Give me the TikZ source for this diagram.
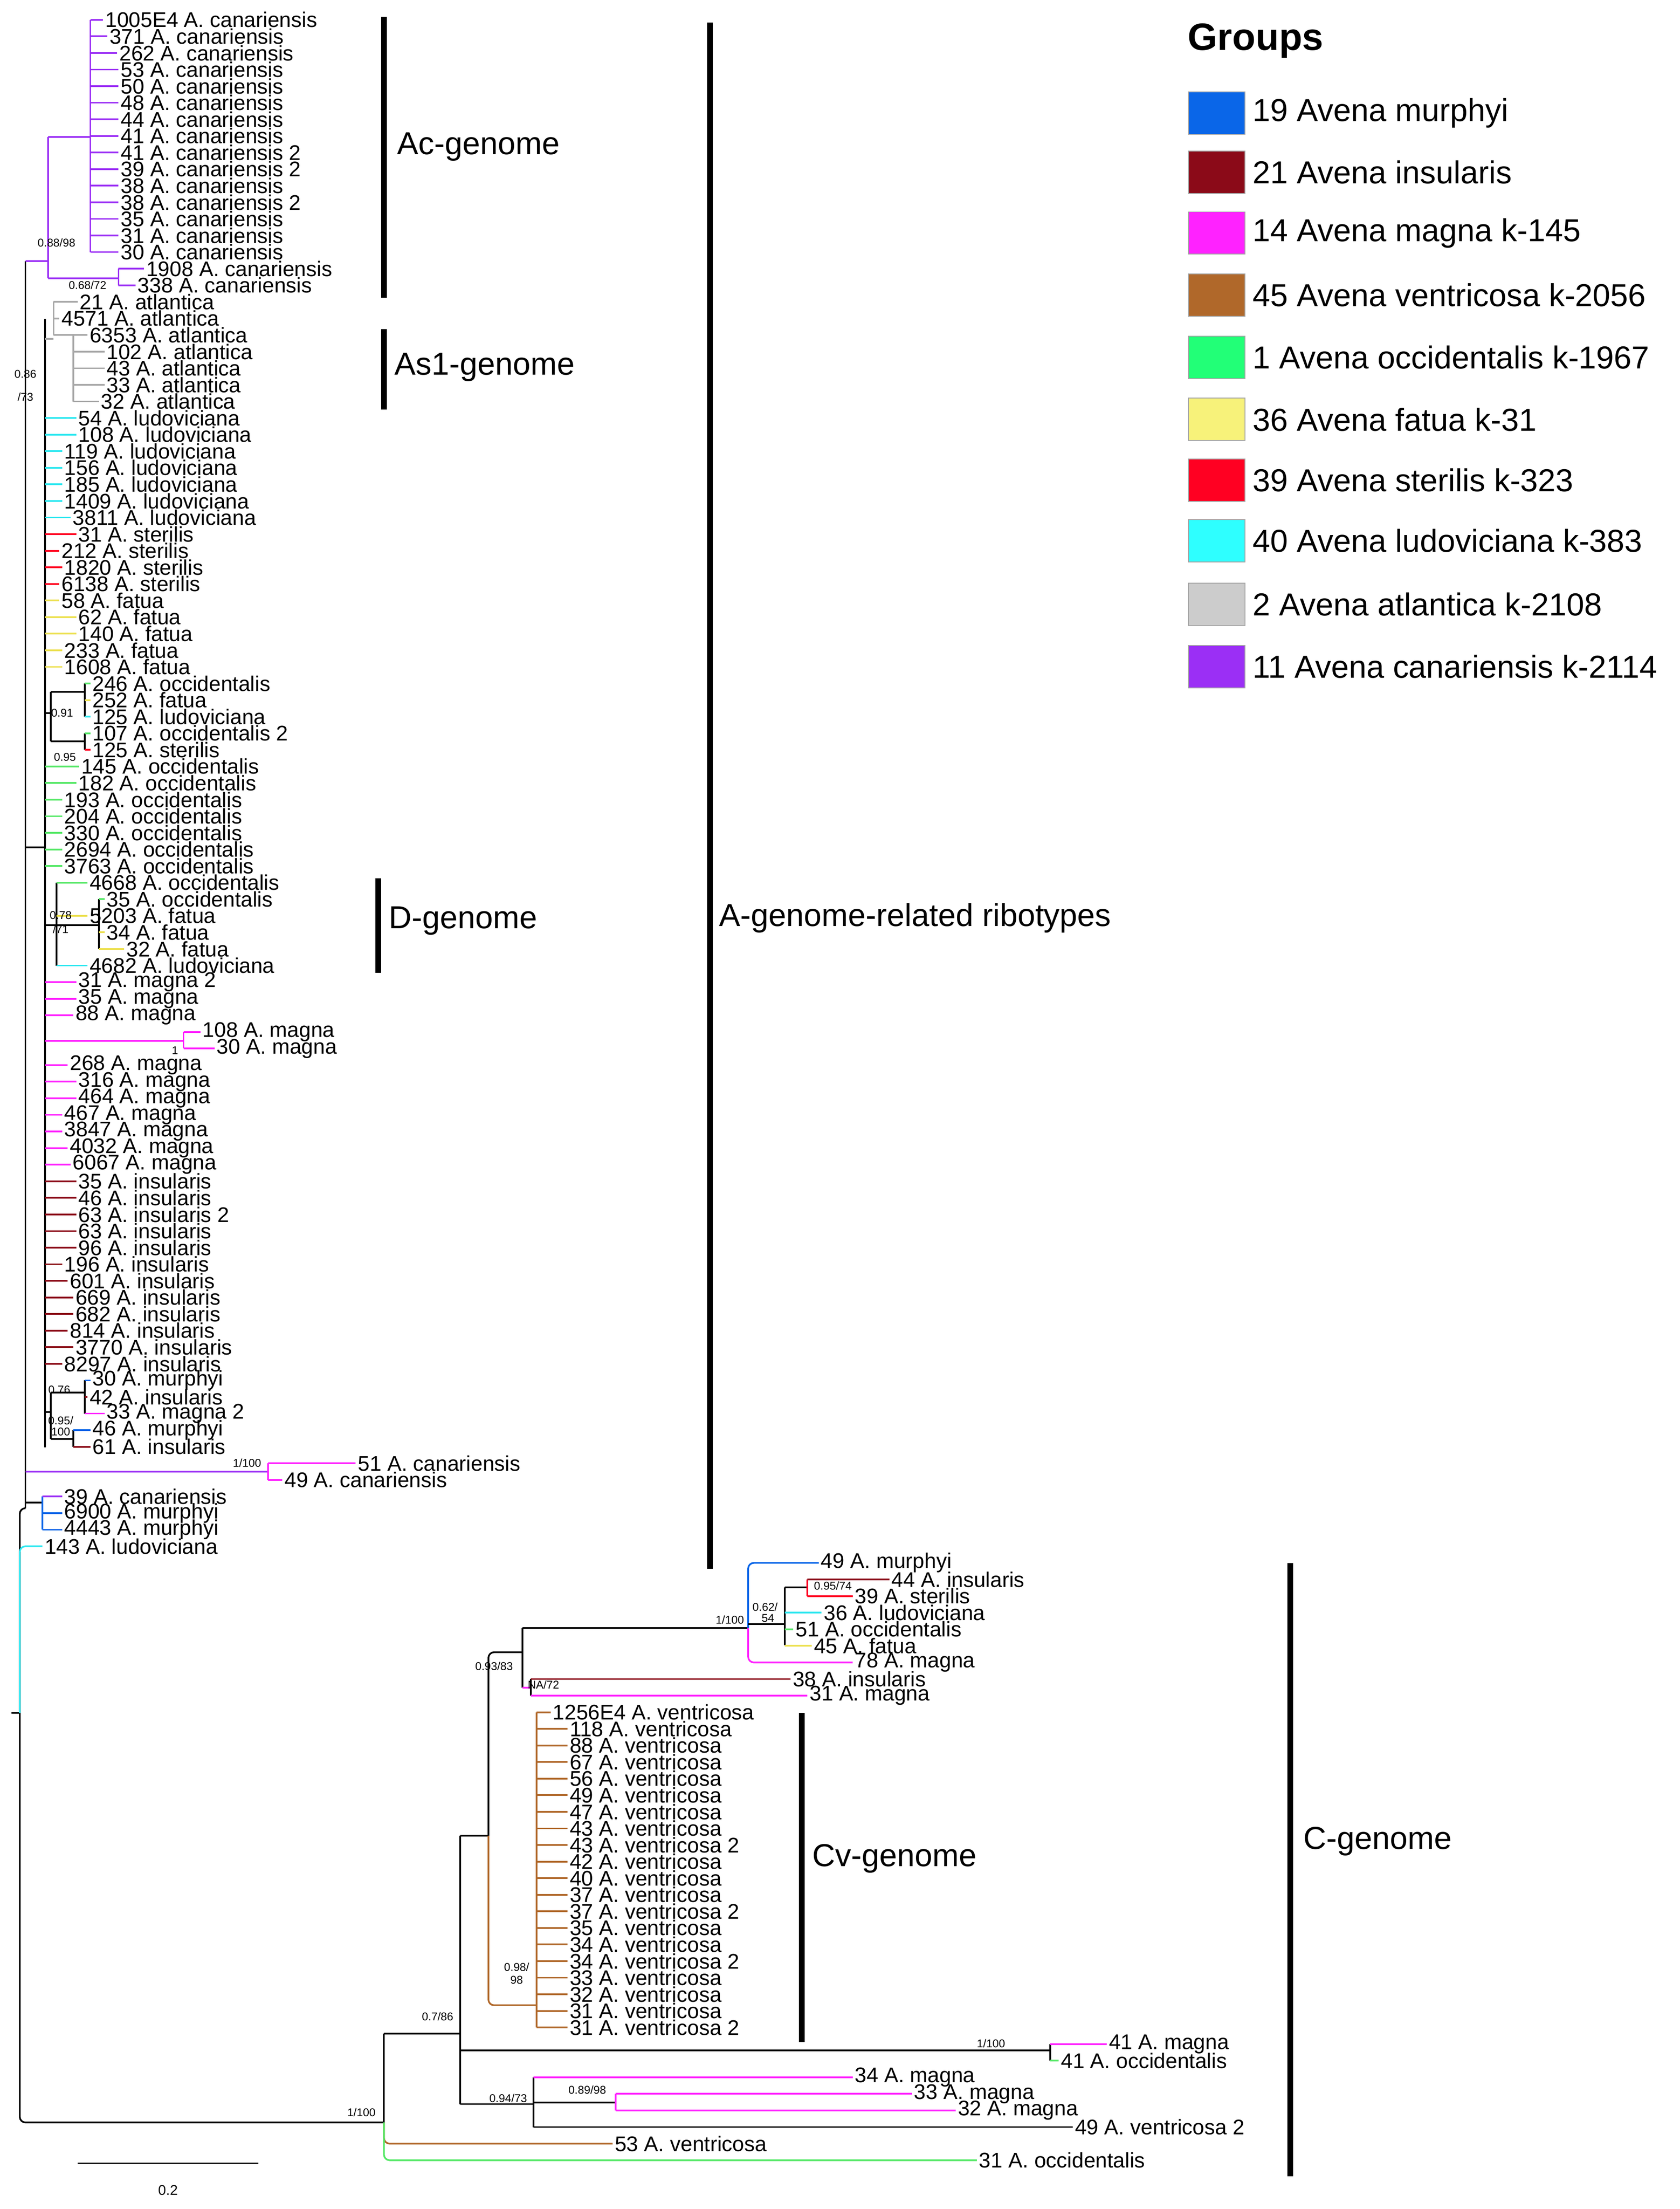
\documentclass[tikz,border=0pt]{standalone}
\usepackage{fontspec}
\setmainfont{Liberation Sans}
\begin{document}
\definecolor{cana}{HTML}{9B2FF5}
\definecolor{atl}{HTML}{A8A8A8}
\definecolor{atlL}{HTML}{CCCCCC}
\definecolor{lud}{HTML}{30E8F0}
\definecolor{ludL}{HTML}{2EFFFF}
\definecolor{ster}{HTML}{FF0022}
\definecolor{fat}{HTML}{ECE050}
\definecolor{fatL}{HTML}{F7F27A}
\definecolor{occ}{HTML}{55E866}
\definecolor{occL}{HTML}{22FF77}
\definecolor{mag}{HTML}{FF22FF}
\definecolor{ins}{HTML}{8B0A18}
\definecolor{mur}{HTML}{0A66E8}
\definecolor{ven}{HTML}{B0682A}
\tikzset{br/.style={line width=1.2pt,rounded corners=4pt},
 lbl/.style={anchor=west,inner sep=1pt,text=black,font=\fontsize{15}{15}\selectfont},
 sup/.style={inner sep=0pt,text=black,font=\fontsize{8}{8}\selectfont},
 bar/.style={line width=4pt},
 glab/.style={anchor=west,text=black,font=\fontsize{22.5}{22.5}\selectfont},
 box/.style={draw=gray!70,line width=0.6pt,minimum width=40pt,minimum height=30pt,inner sep=0pt}}
\newcommand\lf[5]{\draw[br,#4] (#1,{14+(#2-1)*11.75}) -- (#3,{14+(#2-1)*11.75}) node[lbl] (L#2) {#5};}
\newcommand\vl[4]{\draw[br,#4] (#1,{14+(#2-1)*11.75}) -- (#1,{14+(#3-1)*11.75});}
\begin{tikzpicture}[x=1pt,y=-1pt]
\useasboundingbox (0,0) rectangle (1190,1564.3);
\fill[white] (0,0) rectangle (1190,1564.3);
% ---------- root ----------
\draw[br] (8,1213) -- (14,1213);
\draw[br] (18,1068) -| (14,1503) -- (272,1503);
\draw[br,lud] (14,1213) |- (30,{14+92*11.75}) node[lbl] (L93) {143 A. ludoviciana};
% ---------- A node ----------
\draw[br] (18,185) -- (18,1068);
% Ac
\draw[br,cana] (18,185) -- (34,185);
\draw[br,cana] (34,97) -- (34,197);
\draw[br,cana] (34,97) -- (64,97);
\vl{64}{1}{15}{cana}
\lf{64}{1}{73}{cana}{1005E4 A. canariensis}
\lf{64}{2}{76}{cana}{371 A. canariensis}
\lf{64}{3}{83}{cana}{262 A. canariensis}
\lf{64}{4}{84}{cana}{53 A. canariensis}
\lf{64}{5}{84}{cana}{50 A. canariensis}
\lf{64}{6}{84}{cana}{48 A. canariensis}
\lf{64}{7}{84}{cana}{44 A. canariensis}
\lf{64}{8}{84}{cana}{41 A. canariensis}
\lf{64}{9}{84}{cana}{41 A. canariensis 2}
\lf{64}{10}{84}{cana}{39 A. canariensis 2}
\lf{64}{11}{84}{cana}{38 A. canariensis}
\lf{64}{12}{84}{cana}{38 A. canariensis 2}
\lf{64}{13}{84}{cana}{35 A. canariensis}
\lf{64}{14}{84}{cana}{31 A. canariensis}
\lf{64}{15}{84}{cana}{30 A. canariensis}
\draw[br,cana] (34,197) -- (84,197);
\vl{84}{16}{17}{cana}
\lf{84}{16}{102}{cana}{1908 A. canariensis}
\lf{84}{17}{96}{cana}{338 A. canariensis}
\node[sup] (s1) at (40,172) {0.88/98};
\node[sup] (s2) at (62,202) {0.68/72};
% backbone P
\draw[br] (18,600) -- (32,600);
\draw[br] (32,226) -- (32,1025);
\node[sup] (s3) at (18,265) {0.86};
\node[sup] (s4) at (18,281) {/73};
% atlantica
\draw[br,atl] (32,240) -- (38,240);
\vl{38}{18}{20}{atl}
\lf{38}{18}{55}{atl}{21 A. atlantica}
\lf{38}{19}{42}{atl}{4571 A. atlantica}
\draw[br,atl] (38,{14+19*11.75}) -- (52,{14+19*11.75});
\vl{52}{20}{24}{atl}
\lf{52}{20}{62}{atl}{6353 A. atlantica}
\lf{52}{21}{74}{atl}{102 A. atlantica}
\lf{52}{22}{74}{atl}{43 A. atlantica}
\lf{52}{23}{74}{atl}{33 A. atlantica}
\lf{52}{24}{70}{atl}{32 A. atlantica}
% direct leaves
\lf{32}{25}{54}{lud}{54 A. ludoviciana}
\lf{32}{26}{54}{lud}{108 A. ludoviciana}
\lf{32}{27}{44}{lud}{119 A. ludoviciana}
\lf{32}{28}{44}{lud}{156 A. ludoviciana}
\lf{32}{29}{44}{lud}{185 A. ludoviciana}
\lf{32}{30}{44}{lud}{1409 A. ludoviciana}
\lf{32}{31}{50}{lud}{3811 A. ludoviciana}
\lf{32}{32}{54}{ster}{31 A. sterilis}
\lf{32}{33}{42}{ster}{212 A. sterilis}
\lf{32}{34}{44}{ster}{1820 A. sterilis}
\lf{32}{35}{42}{ster}{6138 A. sterilis}
\lf{32}{36}{42}{fat}{58 A. fatua}
\lf{32}{37}{54}{fat}{62 A. fatua}
\lf{32}{38}{54}{fat}{140 A. fatua}
\lf{32}{39}{44}{fat}{233 A. fatua}
\lf{32}{40}{44}{fat}{1608 A. fatua}
% 0.91 clade
\draw[br] (32,505) -- (36,505);
\draw[br] (36,490) -- (36,525);
\draw[br] (36,490) -- (60,490);
\vl{60}{41}{43}{black}
\lf{60}{41}{64}{occ}{246 A. occidentalis}
\lf{60}{42}{64}{fat}{252 A. fatua}
\lf{60}{43}{64}{lud}{125 A. ludoviciana}
\draw[br] (36,525) -- (60,525);
\vl{60}{44}{45}{black}
\lf{60}{44}{64}{occ}{107 A. occidentalis 2}
\lf{60}{45}{64}{ster}{125 A. sterilis}
\node[sup] (s5) at (44,505) {0.91};
\node[sup] (s6) at (46,536) {0.95};
\lf{32}{46}{56}{occ}{145 A. occidentalis}
\lf{32}{47}{54}{occ}{182 A. occidentalis}
\lf{32}{48}{44}{occ}{193 A. occidentalis}
\lf{32}{49}{44}{occ}{204 A. occidentalis}
\lf{32}{50}{44}{occ}{330 A. occidentalis}
\lf{32}{51}{44}{occ}{2694 A. occidentalis}
\lf{32}{52}{44}{occ}{3763 A. occidentalis}
% D clade
\draw[br] (32,655) -- (40,655);
\vl{40}{53}{58}{black}
\lf{40}{53}{62}{occ}{4668 A. occidentalis}
\lf{40}{55}{62}{fat}{5203 A. fatua}
\lf{40}{58}{62}{lud}{4682 A. ludoviciana}
\draw[br] (40,655) -- (70,655);
\vl{70}{54}{57}{black}
\lf{70}{54}{74}{occ}{35 A. occidentalis}
\lf{70}{56}{74}{fat}{34 A. fatua}
\lf{70}{57}{88}{fat}{32 A. fatua}
\node[sup] (s7) at (43,648) {0.78};
\node[sup] (s8) at (43,658) {/71};
% magna
\lf{32}{59}{54}{mag}{31 A. magna 2}
\lf{32}{60}{54}{mag}{35 A. magna}
\lf{32}{61}{52}{mag}{88 A. magna}
\draw[br,mag] (32,737) -- (130,737);
\vl{130}{62}{63}{mag}
\lf{130}{62}{142}{mag}{108 A. magna}
\lf{130}{63}{152}{mag}{30 A. magna}
\node[sup] (s9) at (124,744) {1};
\lf{32}{64}{48}{mag}{268 A. magna}
\lf{32}{65}{54}{mag}{316 A. magna}
\lf{32}{66}{54}{mag}{464 A. magna}
\lf{32}{67}{44}{mag}{467 A. magna}
\lf{32}{68}{44}{mag}{3847 A. magna}
\lf{32}{69}{48}{mag}{4032 A. magna}
\lf{32}{70}{50}{mag}{6067 A. magna}
% insularis
\lf{32}{71}{54}{ins}{35 A. insularis}
\lf{32}{72}{54}{ins}{46 A. insularis}
\lf{32}{73}{54}{ins}{63 A. insularis 2}
\lf{32}{74}{54}{ins}{63 A. insularis}
\lf{32}{75}{54}{ins}{96 A. insularis}
\lf{32}{76}{44}{ins}{196 A. insularis}
\lf{32}{77}{48}{ins}{601 A. insularis}
\lf{32}{78}{52}{ins}{669 A. insularis}
\lf{32}{79}{52}{ins}{682 A. insularis}
\lf{32}{80}{48}{ins}{814 A. insularis}
\lf{32}{81}{52}{ins}{3770 A. insularis}
\lf{32}{82}{44}{ins}{8297 A. insularis}
% murphyi clade
\draw[br] (32,1000) -- (36,1000);
\draw[br] (36,986) -- (36,1019);
\draw[br] (36,986) -- (60,986);
\vl{60}{83}{85}{black}
\lf{60}{83}{64}{mur}{30 A. murphyi}
\lf{60}{84}{62}{ins}{42 A. insularis}
\lf{60}{85}{74}{mag}{33 A. magna 2}
\draw[br] (36,1019) -- (52,1019);
\vl{52}{86}{87}{black}
\lf{52}{86}{64}{mur}{46 A. murphyi}
\lf{52}{87}{64}{ins}{61 A. insularis}
\node[sup] (s10) at (42,984) {0.76};
\node[sup] (s11) at (43,1006) {0.95/};
\node[sup] (s12) at (43,1014) {100};
% canariensis pair
\draw[br,cana] (18,1042) -- (190,1042);
\vl{190}{88}{89}{mag}
\lf{190}{88}{252}{mag}{51 A. canariensis}
\lf{190}{89}{200}{mag}{49 A. canariensis}
\node[sup] (s13) at (175,1036) {1/100};
% last
\draw[br] (18,1064) -- (30,1064);
\vl{30}{90}{92}{mur}
\lf{30}{90}{44}{cana}{39 A. canariensis}
\lf{30}{91}{44}{mur}{6900 A. murphyi}
\lf{30}{92}{44}{mur}{4443 A. murphyi}
% ---------- C clade ----------
\draw[br] (272,1440) -- (272,1503);
\draw[br,ven] (272,1503) |- (434,{14+128*11.75}) node[lbl] (L129) {53 A. ventricosa};
\draw[br,occ] (272,1503) |- (692,{14+129*11.75}) node[lbl] (L130) {31 A. occidentalis};
\node[sup] (s14) at (256,1496) {1/100};
\draw[br] (272,1440) -- (326,1440);
\draw[br] (326,1300) -- (326,1490);
\node[sup] (s15) at (310,1428) {0.7/86};
% pair 41
\draw[br] (326,1452) -- (744,1452);
\vl{744}{123}{124}{black}
\lf{744}{123}{784}{mag}{41 A. magna}
\lf{744}{124}{750}{occ}{41 A. occidentalis}
\node[sup] (s16) at (702,1447) {1/100};
% N3
\draw[br] (326,1490) -- (378,1490);
\vl{378}{125}{128}{black}
\lf{378}{125}{604}{mag}{34 A. magna}
\draw[br] (378,1489) -- (436,1489);
\vl{436}{126}{127}{mag}
\lf{436}{126}{646}{mag}{33 A. magna}
\lf{436}{127}{677}{mag}{32 A. magna}
\lf{378}{128}{760}{black}{49 A. ventricosa 2}
\node[sup] (s17) at (360,1486) {0.94/73};
\node[sup] (s18) at (416,1480) {0.89/98};
% N2
\draw[br] (326,1300) -- (346,1300);
\draw[br] (346,1300) |- (370,1170);
\draw[br,ven] (346,1300) |- (380,1420);
\vl{380}{103}{122}{ven}
\lf{380}{103}{390}{ven}{1256E4 A. ventricosa}
\lf{380}{104}{402}{ven}{118 A. ventricosa}
\lf{380}{105}{402}{ven}{88 A. ventricosa}
\lf{380}{106}{402}{ven}{67 A. ventricosa}
\lf{380}{107}{402}{ven}{56 A. ventricosa}
\lf{380}{108}{402}{ven}{49 A. ventricosa}
\lf{380}{109}{402}{ven}{47 A. ventricosa}
\lf{380}{110}{402}{ven}{43 A. ventricosa}
\lf{380}{111}{402}{ven}{43 A. ventricosa 2}
\lf{380}{112}{402}{ven}{42 A. ventricosa}
\lf{380}{113}{402}{ven}{40 A. ventricosa}
\lf{380}{114}{402}{ven}{37 A. ventricosa}
\lf{380}{115}{402}{ven}{37 A. ventricosa 2}
\lf{380}{116}{402}{ven}{35 A. ventricosa}
\lf{380}{117}{402}{ven}{34 A. ventricosa}
\lf{380}{118}{402}{ven}{34 A. ventricosa 2}
\lf{380}{119}{402}{ven}{33 A. ventricosa}
\lf{380}{120}{402}{ven}{32 A. ventricosa}
\lf{380}{121}{402}{ven}{31 A. ventricosa}
\lf{380}{122}{402}{ven}{31 A. ventricosa 2}
\node[sup] (s19) at (366,1393) {0.98/};
\node[sup] (s20) at (366,1402) {98};
% 0.93/83
\draw[br] (370,1153) -- (370,1195);
\node[sup] (s21) at (350,1180) {0.93/83};
\draw[br,mag] (370,1195) -- (376,1195);
\draw[br] (376,{14+100*11.75}) -- (376,{14+101*11.75});
\lf{376}{101}{560}{ins}{38 A. insularis}
\lf{376}{102}{572}{mag}{31 A. magna}
\node[sup] (s22) at (385,1193) {NA/72};
\draw[br] (370,1153) -- (530,1153);
\draw[br,mur] (530,1153) |- (580,{14+93*11.75}) node[lbl] (L94) {49 A. murphyi};
\draw[br,mag] (530,1153) |- (604,{14+99*11.75}) node[lbl] (L100) {78 A. magna};
\node[sup] (s23) at (517,1147) {1/100};
\draw[br] (530,1150) -- (556,1150);
\draw[br] (556,1124) -- (556,1165);
\draw[br] (556,1124) -- (572,1124);
\vl{572}{95}{96}{ster}
\lf{572}{95}{630}{ins}{44 A. insularis}
\lf{572}{96}{604}{ster}{39 A. sterilis}
\lf{556}{97}{582}{lud}{36 A. ludoviciana}
\lf{556}{98}{562}{occ}{51 A. occidentalis}
\lf{556}{99}{575}{fat}{45 A. fatua}
\node[sup] (s24) at (542,1138) {0.62/};
\node[sup] (s25) at (544,1146) {54};
\node[sup] (s26) at (590,1123) {0.95/74};
% ---------- scale ----------
\draw[line width=1pt] (55,1532) coordinate (sa) -- (183,1532) coordinate (sb);
\node[sup,font=\fontsize{10}{10}\selectfont] (sc) at (119,1551) {0.2};
% ---------- bars ----------
\draw[bar] (272,12) -- (272,211);
\node[glab] (g1) at (278,104) {Ac-genome};
\draw[bar] (272,233) -- (272,290);
\node[glab] (g2) at (276,260) {As1-genome};
\draw[bar] (268,622) -- (268,689);
\node[glab] (g3) at (272,652) {D-genome};
\draw[bar] (503,16) -- (503,1111);
\node[glab] (g4) at (506,650) {A-genome-related ribotypes};
\draw[bar] (568,1213) -- (568,1446);
\node[glab] (g5) at (572,1316) {Cv-genome};
\draw[bar] (914,1107) -- (914,1541);
\node[glab] (g6) at (920,1304) {C-genome};
% ---------- legend ----------
\node[anchor=west,text=black,font=\bfseries\fontsize{27}{27}\selectfont] (gt) at (838,29) {Groups};
\foreach \yy/\cc/\tt [count=\k] in {80/mur/19 Avena murphyi,122/ins/21 Avena insularis,165/mag/14 Avena magna k-145,209/ven/45 Avena ventricosa  k-2056,253/occL/1 Avena occidentalis k-1967,297/fatL/36 Avena fatua k-31,340/ster/39 Avena sterilis k-323,383/ludL/40 Avena ludoviciana k-383,428/atlL/2 Avena atlantica k-2108,472/cana/11 Avena canariensis k-2114}{
\node[box,fill=\cc] (b\k) at (862,\yy) {};
\node[glab] (t\k) at (884,\yy) {\tt};
}
\end{tikzpicture}
\end{document}
